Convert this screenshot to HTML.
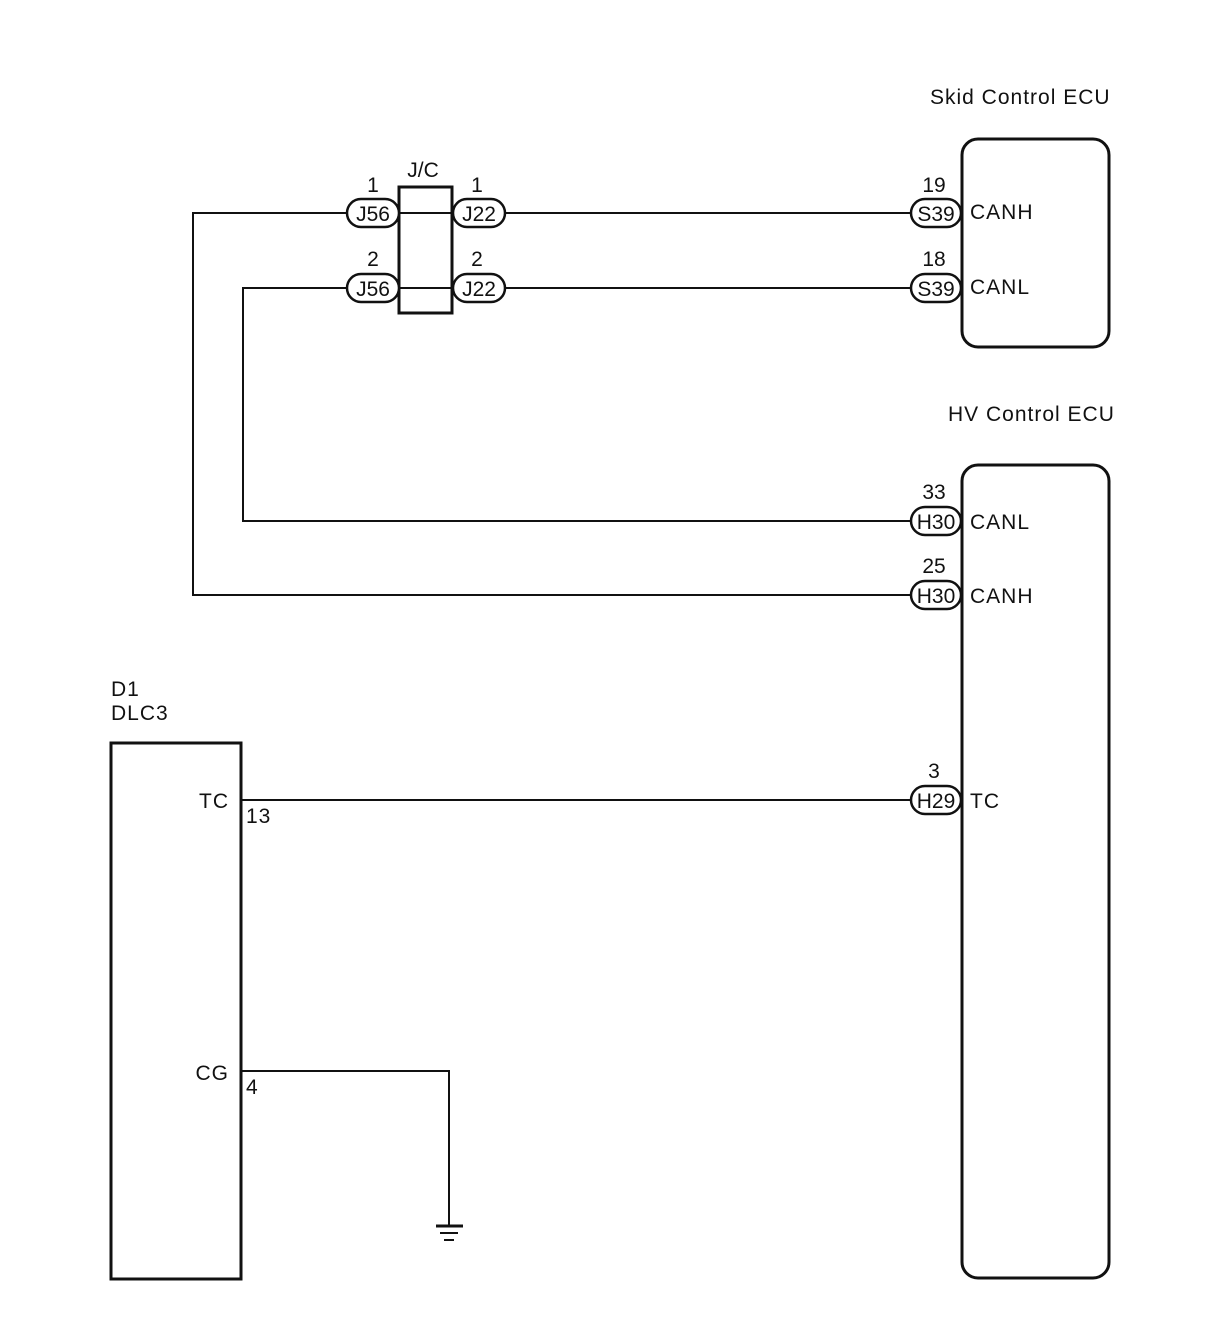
<!DOCTYPE html>
<html><head><style>html,body{margin:0;padding:0;background:#fff}</style></head><body>
<svg width="1208" height="1326" viewBox="0 0 1208 1326" xmlns="http://www.w3.org/2000/svg" font-family="Liberation Sans, sans-serif" font-size="21" fill="#111" letter-spacing="1">
<g fill="none" stroke="#111" stroke-width="2">
<polyline points="347,213 193,213 193,595 912,595"/>
<polyline points="347,288 243,288 243,521 912,521"/>
<line x1="399" y1="213" x2="453" y2="213"/>
<line x1="399" y1="288" x2="453" y2="288"/>
<line x1="505" y1="213" x2="912" y2="213"/>
<line x1="505" y1="288" x2="912" y2="288"/>
<line x1="241" y1="800" x2="912" y2="800"/>
<polyline points="241,1071 449,1071 449,1226"/>
<line x1="436" y1="1226" x2="463" y2="1226" stroke-width="3"/>
<line x1="440" y1="1233" x2="458" y2="1233"/>
<line x1="444" y1="1240" x2="454" y2="1240"/>
</g>
<g fill="none" stroke="#111" stroke-width="3">
<rect x="962" y="139" width="147" height="208" rx="16"/>
<rect x="962" y="465" width="147" height="813" rx="16"/>
<rect x="111" y="743" width="130" height="536"/>
<rect x="399" y="187" width="53" height="126"/>
</g>
<g fill="#fff" stroke="#111" stroke-width="2.5">
<rect x="347" y="199" width="52" height="28" rx="14"/>
<rect x="347" y="274" width="52" height="28" rx="14"/>
<rect x="453" y="199" width="52" height="28" rx="14"/>
<rect x="453" y="274" width="52" height="28" rx="14"/>
<rect x="911" y="199" width="50" height="28" rx="14"/>
<rect x="911" y="274" width="50" height="28" rx="14"/>
<rect x="911" y="507" width="50" height="28" rx="14"/>
<rect x="911" y="581" width="50" height="28" rx="14"/>
<rect x="911" y="786" width="50" height="28" rx="14"/>
</g>
<g text-anchor="middle" letter-spacing="0">
<text x="373" y="221">J56</text><text x="373" y="296">J56</text>
<text x="479" y="221">J22</text><text x="479" y="296">J22</text>
<text x="936" y="221">S39</text><text x="936" y="296">S39</text>
<text x="936" y="529">H30</text><text x="936" y="603">H30</text>
<text x="936" y="808">H29</text>
<text x="373" y="192">1</text><text x="373" y="266">2</text>
<text x="477" y="192">1</text><text x="477" y="266">2</text>
<text x="934" y="192">19</text><text x="934" y="266">18</text>
<text x="934" y="499">33</text><text x="934" y="573">25</text>
<text x="934" y="778">3</text>
<text x="423" y="177">J/C</text>
</g>
<text x="970" y="219">CANH</text>
<text x="970" y="294">CANL</text>
<text x="970" y="529">CANL</text>
<text x="970" y="603">CANH</text>
<text x="970" y="808">TC</text>
<text x="930" y="104">Skid Control ECU</text>
<text x="948" y="421">HV Control ECU</text>
<text x="111" y="696">D1</text>
<text x="111" y="720">DLC3</text>
<text x="229" y="808" text-anchor="end">TC</text>
<text x="246" y="823">13</text>
<text x="229" y="1080" text-anchor="end">CG</text>
<text x="246" y="1094">4</text>
</svg>
</body></html>
